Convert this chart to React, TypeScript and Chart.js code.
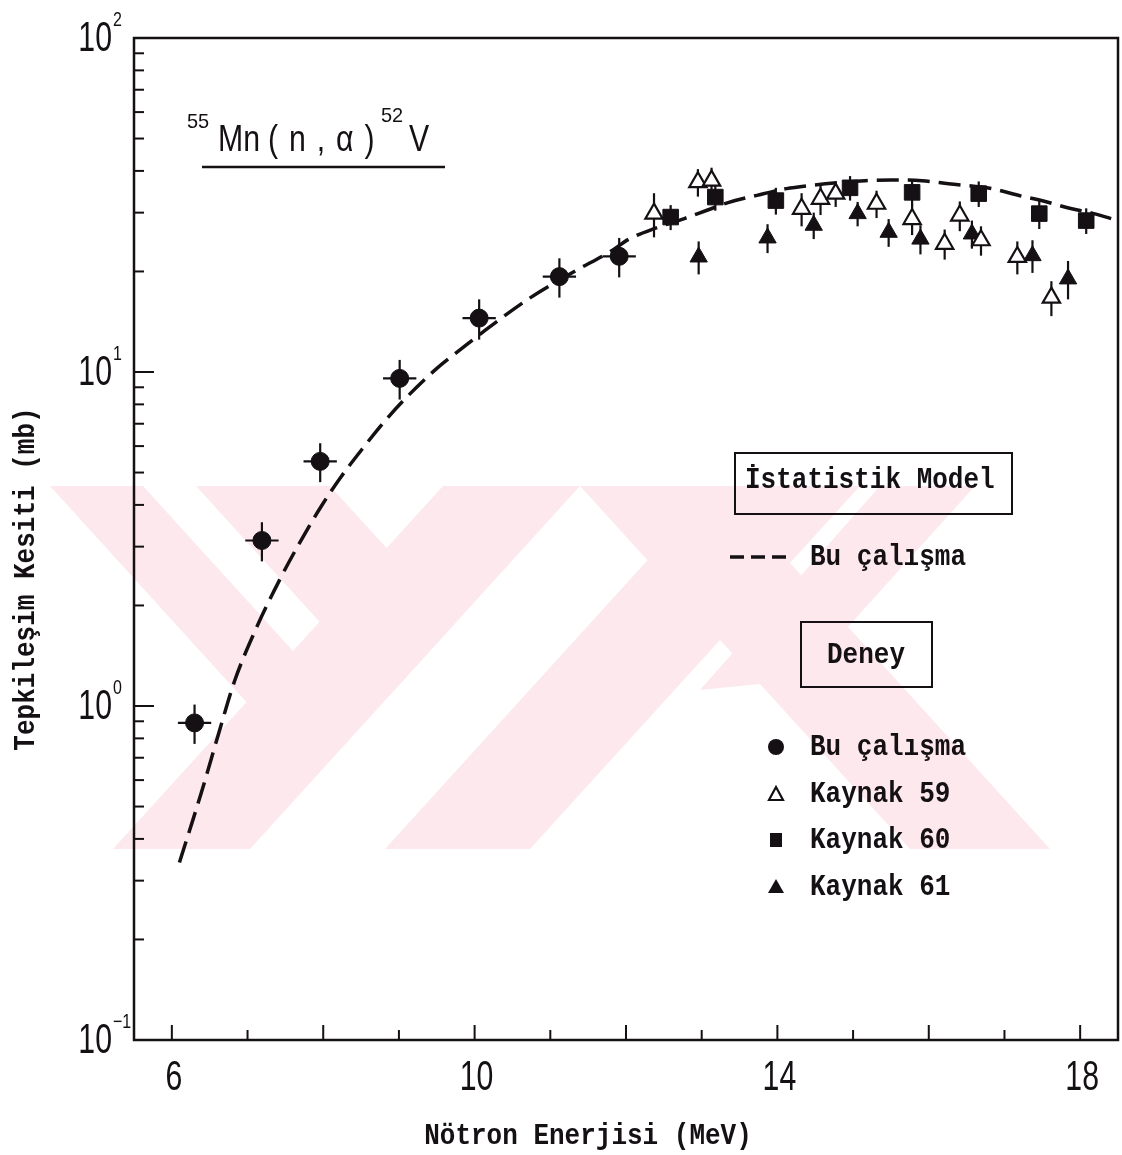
import { useEffect, useRef } from 'react';
import { Chart, registerables } from 'chart.js';

Chart.register(...registerables);

// ---- Data ----
// Bu çalışma (experiment, filled circles)
const thisWorkX = [6.30, 7.19, 7.96, 9.01, 10.06, 11.12, 11.91];
const thisWorkY = [0.89, 3.13, 5.40, 9.57, 14.5, 19.3, 22.2];
const thisWorkYErr = [0.12, 0.42, 0.72, 1.3, 2.0, 2.6, 3.0];
const thisWorkXErr = [0.22, 0.22, 0.22, 0.22, 0.22, 0.22, 0.22];

// Kaynak 59 (open triangles)
const ref59X = [12.37, 12.95, 13.13, 14.32, 14.57, 14.77, 15.31, 15.78, 16.21, 16.41, 16.69, 17.17, 17.62];
const ref59Y = [29.8, 37.0, 37.4, 30.8, 33.0, 34.2, 31.9, 28.7, 24.2, 29.4, 24.8, 22.1, 16.7];
const ref59Err = [4.5, 3.5, 3.5, 3.5, 3.5, 3.0, 3.0, 3.0, 2.5, 3.0, 2.5, 2.5, 2.0];

// Kaynak 60 (filled squares)
const ref60X = [12.59, 13.18, 13.98, 14.96, 15.78, 16.66, 17.46, 18.08];
const ref60Y = [29.1, 33.4, 32.6, 35.6, 34.5, 34.2, 29.8, 28.4];
const ref60Err = [2.5, 3.0, 3.0, 3.0, 3.0, 3.0, 3.0, 2.5];

// Kaynak 61 (filled triangles)
const ref61X = [12.96, 13.87, 14.48, 15.06, 15.47, 15.89, 16.57, 17.37, 17.84];
const ref61Y = [22.1, 25.2, 27.5, 29.8, 26.2, 25.0, 25.9, 22.3, 19.0];
const ref61Err = [2.5, 2.5, 2.5, 2.5, 2.5, 2.5, 2.5, 2.5, 2.5];

// İstatistik model – Bu çalışma (dashed curve)
const modelX = [6.1, 6.4, 6.63, 6.83, 7.1, 7.45, 7.73, 7.97, 8.22, 8.52, 8.83, 9.09, 9.49, 9.84, 10.19, 10.72, 11.3, 11.8, 12.04, 12.4, 12.77, 13.07, 13.36, 13.73, 14.12, 14.44, 14.81, 15.16, 15.5, 15.91, 16.26, 16.83, 17.23, 17.45, 17.89, 18.11, 18.41];
const modelY = [0.34, 0.56, 0.845, 1.19, 1.68, 2.45, 3.2, 3.95, 4.8, 5.9, 7.2, 8.35, 10.2, 11.8, 13.6, 16.6, 19.9, 23.0, 25.0, 27.0, 28.8, 30.5, 32.2, 33.8, 35.4, 36.2, 36.9, 37.4, 37.6, 37.4, 36.6, 35.4, 33.6, 32.8, 30.8, 30.1, 28.8];

// Axes
const xMin = 5.5;
const xMax = 18.5;
const yMin = 0.1;
const yMax = 100;
const xTickValues = [6, 7, 8, 9, 10, 11, 12, 13, 14, 15, 16, 17, 18];
const xTickLabels = ['6', '10', '14', '18'];
const yDecadeExponents = ['2', '1', '0', '-1'];
const yMinorMultipliers = [2, 3, 4, 5, 6, 7, 8, 9];

const xTitle = 'Nötron Enerjisi (MeV)';
const yTitle = 'Tepkileşim Kesiti (mb)';
const legendModelBox = 'İstatistik Model';
const legendExpBox = 'Deney';
const legendLabels = ['Bu çalışma', 'Kaynak 59', 'Kaynak 60', 'Kaynak 61'];

// Watermark bands (decorative background), page coordinates: [[x,y],...]
const watermarkBands: number[][][] = [
  [[443, 486], [580, 486], [250, 849], [113, 849]],
  [[50, 486], [143, 486], [343, 706], [250, 706]],
  [[196, 486], [330, 486], [455, 623], [388, 697]],
  [[715, 486], [860, 486], [530, 849], [385, 849]],
  [[580, 486], [720, 486], [1050, 849], [910, 849]],
  [[880, 486], [975, 486], [800, 680], [700, 690]],
];

const INK = '#141014';

function drawText(ctx: CanvasRenderingContext2D, text: string, x: number, y: number, font: string, align: CanvasTextAlign = 'left', sx = 1, sy = 1, baseline: CanvasTextBaseline = 'alphabetic', spacing = '0px') {
  ctx.save();
  ctx.translate(x, y);
  ctx.scale(sx, sy);
  ctx.font = font;
  (ctx as any).letterSpacing = spacing;
  ctx.textAlign = align;
  ctx.textBaseline = baseline;
  ctx.fillStyle = INK;
  ctx.fillText(text, 0, 0);
  ctx.restore();
}

const MONO = 'bold 26px "Liberation Mono", "DejaVu Sans Mono", monospace';
const NUM = '42px "Liberation Sans", Arial, sans-serif';
const SUP = '20px "Liberation Sans", Arial, sans-serif';

const errorBarPlugin = {
  id: 'errorBars',
  beforeDatasetsDraw(chart: any) {
    const { ctx } = chart;
    const xs = chart.scales.x;
    const ys = chart.scales.y;
    ctx.save();
    ctx.strokeStyle = INK;
    ctx.lineWidth = 2.2;
    chart.data.datasets.forEach((ds: any) => {
      if (!ds.errY) return;
      ds.data.forEach((p: any, i: number) => {
        const px = xs.getPixelForValue(p.x);
        const py = ys.getPixelForValue(p.y);
        const e = ds.errY[i];
        ctx.beginPath();
        ctx.moveTo(px, ys.getPixelForValue(p.y + e));
        ctx.lineTo(px, ys.getPixelForValue(Math.max(p.y - e, 1e-6)));
        ctx.stroke();
        if (ds.errX) {
          const ex = ds.errX[i];
          ctx.beginPath();
          ctx.moveTo(xs.getPixelForValue(p.x - ex), py);
          ctx.lineTo(xs.getPixelForValue(p.x + ex), py);
          ctx.stroke();
        }
      });
    });
    ctx.restore();
  },
};

const backgroundPlugin = {
  id: 'bgWatermark',
  beforeDraw(chart: any) {
    const { ctx, width, height } = chart;
    ctx.save();
    ctx.fillStyle = '#ffffff';
    ctx.fillRect(0, 0, width, height);
    ctx.fillStyle = 'rgb(253, 233, 237)';
    watermarkBands.forEach((poly) => {
      ctx.beginPath();
      poly.forEach(([x, y], i) => (i === 0 ? ctx.moveTo(x, y) : ctx.lineTo(x, y)));
      ctx.closePath();
      ctx.fill();
    });
    ctx.restore();
  },
};

const decorPlugin = {
  id: 'decor',
  afterDatasetsDraw(chart: any) {
    const { ctx, chartArea } = chart;
    const xs = chart.scales.x;
    const ys = chart.scales.y;
    const { left, right, top, bottom } = chartArea;
    ctx.save();
    // frame
    ctx.strokeStyle = INK;
    ctx.lineWidth = 2.5;
    ctx.strokeRect(left, top, right - left, bottom - top);

    // y ticks (inside, left axis)
    ctx.lineWidth = 2;
    yDecadeExponents.forEach((e) => {
      const base = Math.pow(10, Number(e));
      const py = ys.getPixelForValue(base);
      ctx.beginPath();
      ctx.moveTo(left, py);
      ctx.lineTo(left + 20, py);
      ctx.stroke();
      yMinorMultipliers.forEach((m) => {
        const v = m * base;
        if (v > yMax) return;
        const pm = ys.getPixelForValue(v);
        ctx.beginPath();
        ctx.moveTo(left, pm);
        ctx.lineTo(left + 10, pm);
        ctx.stroke();
      });
      // label 10^e
      drawText(ctx, '10', 112, py + 13, NUM, 'right', 0.72, 1);
      drawText(ctx, e === '-1' ? '\u2212' + '1' : e, 113, py - 12, SUP, 'left', 0.8, 1);
    });

    // x ticks (inside, bottom axis)
    xTickValues.forEach((v) => {
      const px = xs.getPixelForValue(v);
      ctx.beginPath();
      ctx.moveTo(px, bottom);
      ctx.lineTo(px, bottom - (v % 2 === 0 ? 15 : 10));
      ctx.stroke();
    });
    xTickLabels.forEach((t) => {
      const px = xs.getPixelForValue(Number(t));
      drawText(ctx, t, px + 2, bottom + 50, NUM, 'center', 0.72, 1);
    });

    // axis titles
    drawText(ctx, xTitle, 588, 1136, MONO, 'center', 1, 1.15, 'middle');
    ctx.save();
    ctx.translate(26, 579);
    ctx.rotate(-Math.PI / 2);
    drawText(ctx, yTitle, 0, 0, MONO, 'center', 1, 1.15, 'middle');
    ctx.restore();

    // reaction title 55Mn(n,α)52V
    const TF = '36px "Liberation Sans", Arial, sans-serif';
    const TS = '21px "Liberation Sans", Arial, sans-serif';
    drawText(ctx, '55', 187, 128, TS, 'left', 0.95, 1);
    drawText(ctx, 'Mn', 218, 151, TF, 'left', 0.84, 1);
    drawText(ctx, '(n,α)', 268, 151, TF, 'left', 0.84, 1, 'alphabetic', '13px');
    drawText(ctx, '52', 381, 122, TS, 'left', 0.95, 1);
    drawText(ctx, 'V', 409, 151, TF, 'left', 0.84, 1);
    ctx.lineWidth = 2.5;
    ctx.beginPath();
    ctx.moveTo(202, 167);
    ctx.lineTo(445, 167);
    ctx.stroke();

    // legend: model box
    ctx.lineWidth = 2;
    ctx.strokeRect(735, 453, 277, 61);
    drawText(ctx, legendModelBox, 745, 480, MONO, 'left', 1, 1.15, 'middle');
    ctx.save();
    ctx.lineWidth = 3.5;
    ctx.setLineDash([14, 7]);
    ctx.beginPath();
    ctx.moveTo(730, 557);
    ctx.lineTo(792, 557);
    ctx.stroke();
    ctx.restore();
    drawText(ctx, legendLabels[0], 810, 557, MONO, 'left', 1, 1.15, 'middle');

    // legend: experiment box
    ctx.strokeRect(801, 622, 131, 65);
    drawText(ctx, legendExpBox, 866, 655, MONO, 'center', 1, 1.15, 'middle');

    const rowsY = [747, 794, 840, 887];
    const mx = 776;
    ctx.fillStyle = INK;
    ctx.beginPath();
    ctx.arc(mx, rowsY[0], 8, 0, Math.PI * 2);
    ctx.fill();
    ctx.beginPath();
    ctx.moveTo(mx, rowsY[1] - 7);
    ctx.lineTo(mx + 7, rowsY[1] + 6);
    ctx.lineTo(mx - 7, rowsY[1] + 6);
    ctx.closePath();
    ctx.lineWidth = 2.2;
    ctx.stroke();
    ctx.fillRect(mx - 6, rowsY[2] - 7, 12, 14);
    ctx.beginPath();
    ctx.moveTo(mx, rowsY[3] - 8);
    ctx.lineTo(mx + 8, rowsY[3] + 6);
    ctx.lineTo(mx - 8, rowsY[3] + 6);
    ctx.closePath();
    ctx.fill();
    legendLabels.forEach((l, i) => drawText(ctx, l, 810, rowsY[i], MONO, 'left', 1, 1.15, 'middle'));

    ctx.restore();
  },
};

const toPoints = (xs: number[], ys: number[]) => xs.map((x, i) => ({ x, y: ys[i] }));

export default function App() {
  const canvasRef = useRef<HTMLCanvasElement | null>(null);

  useEffect(() => {
    if (!canvasRef.current) return;
    const chart = new Chart(canvasRef.current, {
      type: 'scatter',
      data: {
        datasets: [
          {
            type: 'line',
            label: 'İstatistik Model – Bu çalışma',
            data: toPoints(modelX, modelY),
            borderColor: INK,
            borderWidth: 3.5,
            borderDash: [22, 9],
            pointRadius: 0,
            fill: false,
            cubicInterpolationMode: 'monotone',
          } as any,
          {
            label: 'Bu çalışma',
            data: toPoints(thisWorkX, thisWorkY),
            pointStyle: 'circle',
            pointRadius: 9,
            backgroundColor: INK,
            borderColor: INK,
            borderWidth: 1,
            errY: thisWorkYErr,
            errX: thisWorkXErr,
          } as any,
          {
            label: 'Kaynak 59',
            data: toPoints(ref59X, ref59Y),
            pointStyle: 'triangle',
            pointRadius: 10,
            backgroundColor: '#ffffff',
            borderColor: INK,
            borderWidth: 2.2,
            errY: ref59Err,
          } as any,
          {
            label: 'Kaynak 60',
            data: toPoints(ref60X, ref60Y),
            pointStyle: 'rect',
            pointRadius: 11,
            backgroundColor: INK,
            borderColor: INK,
            borderWidth: 1,
            errY: ref60Err,
          } as any,
          {
            label: 'Kaynak 61',
            data: toPoints(ref61X, ref61Y),
            pointStyle: 'triangle',
            pointRadius: 10,
            backgroundColor: INK,
            borderColor: INK,
            borderWidth: 1,
            errY: ref61Err,
          } as any,
        ],
      },
      options: {
        animation: false,
        responsive: true,
        maintainAspectRatio: false,
        layout: { autoPadding: false, padding: { left: 134, top: 38, right: 4, bottom: 115 } },
        scales: {
          x: { type: 'linear', min: xMin, max: xMax, display: false },
          y: { type: 'logarithmic', min: yMin, max: yMax, display: false },
        },
        plugins: {
          legend: { display: false },
          tooltip: { enabled: false },
        },
        events: [],
      },
      plugins: [backgroundPlugin, errorBarPlugin, decorPlugin],
    });
    return () => chart.destroy();
  }, []);

  return (
    <div style={{ position: 'fixed', left: 0, top: 0, width: 1122, height: 1155, background: '#fff' }}>
      <canvas ref={canvasRef} />
    </div>
  );
}
